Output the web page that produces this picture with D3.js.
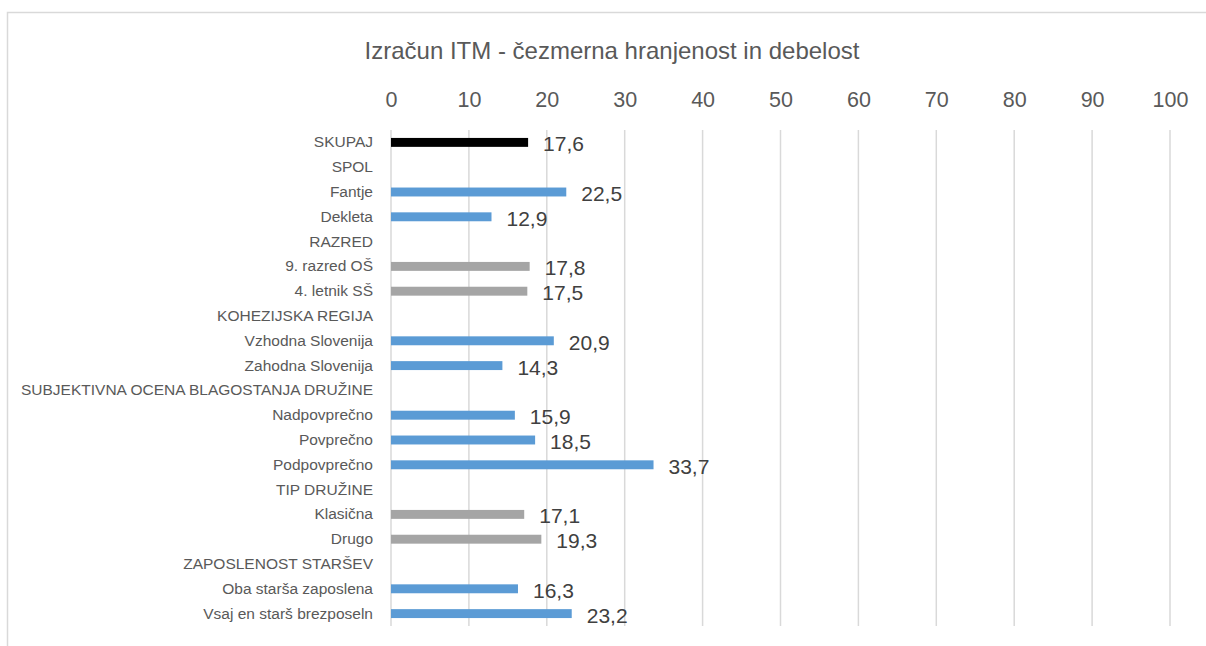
<!DOCTYPE html>
<html>
<head>
<meta charset="utf-8">
<script src="https://cdn.jsdelivr.net/npm/d3@7"></script>
<style>
  body { margin: 0; background: #fff; }
  text { font-family: "Liberation Sans", "DejaVu Sans", sans-serif; }
</style>
</head>
<body>
<div class="chart"></div>
<script>
const title = "Izračun ITM - čezmerna hranjenost in debelost";
const categories = [
  "SKUPAJ", "SPOL", "Fantje", "Dekleta", "RAZRED", "9. razred OŠ", "4. letnik SŠ",
  "KOHEZIJSKA REGIJA", "Vzhodna Slovenija", "Zahodna Slovenija",
  "SUBJEKTIVNA OCENA BLAGOSTANJA DRUŽINE", "Nadpovprečno", "Povprečno", "Podpovprečno",
  "TIP DRUŽINE", "Klasična", "Drugo", "ZAPOSLENOST STARŠEV",
  "Oba starša zaposlena", "Vsaj en starš brezposeln"
];
const values = [
  17.6, null, 22.5, 12.9, null, 17.8, 17.5,
  null, 20.9, 14.3,
  null, 15.9, 18.5, 33.7,
  null, 17.1, 19.3, null,
  16.3, 23.2
];
const groups = [
  "total", null, "a", "a", null, "b", "b",
  null, "a", "a",
  null, "a", "a", "a",
  null, "b", "b", null,
  "a", "a"
];
const xTicks = [0, 10, 20, 30, 40, 50, 60, 70, 80, 90, 100];

const colors = { total: "#000000", a: "#5B9BD5", b: "#A5A5A5" };

const w = 1206, h = 646;
const margin = { top: 130, bottom: 20, left: 391, right: 36 };
const plotBottom = 626;

const data = categories.map((c, i) => ({ cat: c, val: values[i], grp: groups[i] }));

const svg = d3.select(".chart").append("svg")
  .attr("width", w)
  .attr("height", h);

// outer chart border
svg.append("rect")
  .attr("x", 7.5).attr("y", 12.5)
  .attr("width", w + 10).attr("height", h + 10)
  .attr("fill", "none")
  .attr("stroke", "#D9D9D9")
  .attr("stroke-width", 1.5);

const xScale = d3.scaleLinear()
  .domain([0, 100])
  .range([margin.left, w - margin.right]);

const yScale = d3.scaleBand()
  .domain(categories)
  .range([margin.top, plotBottom])
  .paddingInner(0.64)
  .paddingOuter(0.32);

// title
svg.append("text")
  .attr("x", 612).attr("y", 59)
  .attr("text-anchor", "middle")
  .attr("fill", "#595959")
  .style("font-size", "24px")
  .text(title);

// gridlines
svg.append("g")
  .selectAll("line")
  .data(xTicks)
  .enter()
  .append("line")
  .attr("x1", d => xScale(d)).attr("x2", d => xScale(d))
  .attr("y1", margin.top).attr("y2", plotBottom)
  .attr("stroke", "#D9D9D9")
  .attr("stroke-width", 1.5);

// top axis
const xAxis = d3.axisTop(xScale).tickValues(xTicks).tickSize(0).tickPadding(0);
const gx = svg.append("g")
  .attr("transform", `translate(0, 107)`)
  .call(xAxis);
gx.select(".domain").remove();
gx.selectAll("text")
  .attr("fill", "#595959")
  .style("font-size", "21.5px")
  .style("font-family", "'Liberation Sans', sans-serif");

// category axis
const yAxis = d3.axisLeft(yScale).tickSize(0).tickPadding(18);
const gy = svg.append("g")
  .attr("transform", `translate(${margin.left}, 0)`)
  .call(yAxis);
gy.select(".domain").remove();
gy.selectAll("text")
  .attr("fill", "#595959")
  .style("font-size", "15.5px")
  .style("font-family", "'Liberation Sans', sans-serif");

// bars
const bars = data.filter(d => d.val !== null);
svg.append("g")
  .selectAll("rect")
  .data(bars)
  .enter()
  .append("rect")
  .attr("x", xScale(0))
  .attr("y", d => yScale(d.cat))
  .attr("width", d => xScale(d.val) - xScale(0))
  .attr("height", yScale.bandwidth())
  .attr("fill", d => colors[d.grp]);

// value labels
svg.append("g")
  .selectAll("text")
  .data(bars)
  .enter()
  .append("text")
  .attr("x", d => xScale(d.val) + 15)
  .attr("y", d => yScale(d.cat) + yScale.bandwidth() / 2 + 9)
  .attr("fill", "#404040")
  .style("font-size", "21px")
  .text(d => d3.format(".1f")(d.val).replace(".", ","));
</script>
</body>
</html>
